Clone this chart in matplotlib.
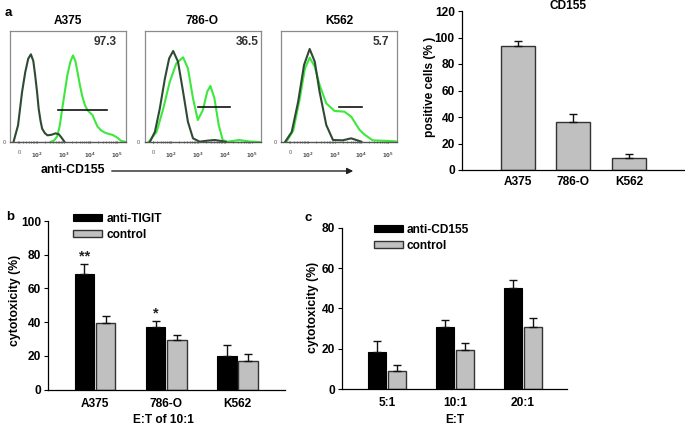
import matplotlib
matplotlib.use("Agg")
import matplotlib.pyplot as plt
import numpy as np

plt.rcParams['font.family'] = ['Liberation Sans', 'DejaVu Sans']
plt.rcParams['font.weight'] = 'bold'

# ---------------- data ----------------
cell_lines = ["A375", "786-O", "K562"]
pct_labels = ["97.3", "36.5", "5.7"]

# flow histograms: x in decade units (2 = 10^2), y in % of box height
a375_ctrl_x = [1.13, 1.30, 1.45, 1.57, 1.68, 1.78, 1.87, 1.94, 2.01, 2.07, 2.14, 2.20, 2.30, 2.40, 2.55, 2.70, 2.82, 2.92, 3.04]
a375_ctrl_y = [0, 15, 45, 63, 75, 79, 73, 60, 45, 30, 19, 12, 8, 6, 6.5, 7.8, 7, 4, 0]
a375_cd155_x = [2.51, 2.65, 2.76, 2.86, 2.95, 3.05, 3.14, 3.25, 3.35, 3.44, 3.52, 3.61, 3.70, 3.80, 3.89, 3.98, 4.08, 4.17, 4.27, 4.40, 4.52, 4.68, 4.84, 5.00, 5.15, 5.34]
a375_cd155_y = [0, 1.5, 5, 15, 30, 46, 60, 72, 78, 73, 63, 51, 41, 33, 28.8, 26.5, 24.3, 19, 13.8, 10.5, 8.7, 7.3, 6.3, 4, 1, 0]

o786_ctrl_x = [1.20, 1.39, 1.57, 1.76, 1.92, 2.07, 2.25, 2.44, 2.62, 2.81, 3.06, 3.35, 3.61, 3.85, 4.04]
o786_ctrl_y = [0, 9.3, 30, 57, 75.3, 82, 72.4, 45.3, 18.3, 3.3, 0.3, 1.2, 1.8, 1, 0]
o786_cd155_x = [1.15, 1.45, 1.70, 1.94, 2.19, 2.44, 2.62, 2.81, 2.99, 3.18, 3.34, 3.46, 3.61, 3.77, 3.92, 4.10, 4.54, 4.90, 5.30]
o786_cd155_y = [0, 9, 30, 54, 70.9, 76.3, 66.4, 39.4, 19.8, 28.8, 45.3, 50.5, 39.4, 15.3, 1.8, 0.3, 1.8, 0.5, 0]

k562_ctrl_x = [1.15, 1.40, 1.64, 1.86, 2.07, 2.26, 2.44, 2.69, 2.94, 3.30, 3.62, 4.00]
k562_ctrl_y = [0, 9, 36.3, 69.4, 83.8, 72.4, 45.3, 15.3, 1.8, 1.5, 3.3, 0.3]
k562_cd155_x = [1.20, 1.46, 1.70, 1.89, 2.07, 2.26, 2.44, 2.69, 3.00, 3.37, 3.62, 3.93, 4.10, 4.42, 5.00, 5.30]
k562_cd155_y = [0, 10.5, 39, 66, 76, 67.9, 51.4, 34.8, 28, 27.3, 22.8, 11, 7, 1.5, 1, 0.5]

gate_start = [2.80, 2.99, 3.15]
gate_end = [4.61, 4.19, 4.01]
gate_level = [28.8, 31.2, 31.2]

hist_tick_pos = [1.33, 2, 3, 4, 5]
hist_tick_labels = ["0", "$10^2$", "$10^3$", "$10^4$", "$10^5$"]

# CD155 positive cells
pos_mean = [93.8, 36.1, 9.0]
pos_err = [3.5, 5.8, 3.2]

# panel b
b_groups = ["A375", "786-O", "K562"]
tigit_mean = [68.7, 36.8, 19.6]
tigit_err = [5.6, 3.8, 6.6]
ctrl_b_mean = [39.3, 29.3, 17.0]
ctrl_b_err = [4.3, 3.3, 4.3]
b_stars = ["**", "*", ""]

# panel c
c_groups = ["5:1", "10:1", "20:1"]
cd155_mean = [18.5, 30.8, 50.3]
cd155_err = [5.4, 3.4, 3.7]
ctrl_c_mean = [8.9, 19.3, 30.9]
ctrl_c_err = [2.8, 3.7, 4.5]

# ---------------- layout helpers ----------------
W, H = 685, 425
fig = plt.figure(figsize=(W / 100, H / 100), dpi=100)
FS = 8.6


def rect(l, t, r, b):
    return [l / W, 1 - b / H, (r - l) / W, (b - t) / H]


def ftext(x, y, s, **kw):
    fig.text(x / W, 1 - y / H, s, **kw)


DARK = "#2f4a33"
GREEN = "#3de83d"
GRAY = "#c0c0c0"

# ---------------- panel a: histograms ----------------
hist_data = [
    (a375_ctrl_x, a375_ctrl_y, a375_cd155_x, a375_cd155_y),
    (o786_ctrl_x, o786_ctrl_y, o786_cd155_x, o786_cd155_y),
    (k562_ctrl_x, k562_ctrl_y, k562_cd155_x, k562_cd155_y),
]
hist_left = [10, 144.5, 281]
pct_right = [0.92, 0.98, 0.93]
for i, (cx, cy, gx, gy) in enumerate(hist_data):
    l = hist_left[i]
    ax = fig.add_axes(rect(l, 31, l + 116, 142))
    ax.plot(gx, gy, color=GREEN, lw=1.5, solid_joinstyle="round")
    ax.plot(cx, cy, color=DARK, lw=1.5, solid_joinstyle="round")
    ax.plot([gate_start[i], gate_end[i]], [gate_level[i], gate_level[i]], color="#111111", lw=1.2)
    ax.set_xlim(1.0, 5.33)
    ax.set_ylim(0, 100)
    for s in ["top", "left", "right"]:
        ax.spines[s].set_color("#8a8a8a")
        ax.spines[s].set_linewidth(0.9)
    ax.spines["bottom"].set_color("#555555")
    ax.spines["bottom"].set_linewidth(1.0)
    ax.set_xticks(hist_tick_pos)
    ax.set_xticklabels(hist_tick_labels, fontsize=4, color="#555555", fontweight="normal")
    ax.set_xticks(np.concatenate([np.log10(np.arange(2, 10)) + d for d in range(1, 5)]), minor=True)
    ax.tick_params(axis="x", which="major", length=2, width=0.6, direction="inout", pad=5, colors="#555555")
    ax.tick_params(axis="x", which="minor", length=1.5, width=0.5, direction="inout", colors="#555555")
    ax.set_yticks([0])
    ax.set_yticklabels(["0"], fontsize=4, color="#555555", fontweight="normal")
    ax.tick_params(axis="y", length=0, pad=3)
    ax.text(pct_right[i], 0.90, pct_labels[i], transform=ax.transAxes, ha="right", va="center",
            fontsize=FS, fontweight="bold", color="#333333")
    ax.set_title(cell_lines[i], fontsize=FS, fontweight="bold", pad=5)

ftext(8, 13, "a", fontsize=9.5, fontweight="bold", ha="center", va="center")
ftext(73, 170, "anti-CD155", fontsize=8.8, fontweight="bold", ha="center", va="center")
fig.add_artist(matplotlib.patches.FancyArrowPatch(
    (109 / W, 1 - 171 / H), (356 / W, 1 - 171 / H), transform=fig.transFigure,
    arrowstyle="-|>", mutation_scale=9, color="#222222", lw=1.0))

# ---------------- CD155 positive cells ----------------
ax = fig.add_axes(rect(461.7, 11, 684, 170))
x = np.arange(len(cell_lines))
ax.bar(x, pos_mean, width=0.61, color=GRAY, edgecolor="#333333", linewidth=1.0,
       yerr=[np.zeros(3), pos_err], error_kw=dict(ecolor="#111111", elinewidth=1, capsize=3, capthick=1))
ax.set_xlim(-1.01, 2.99)
ax.set_ylim(0, 120)
ax.set_yticks(range(0, 121, 20))
ax.set_xticks(x)
ax.set_xticklabels(cell_lines)
ax.tick_params(axis="x", length=0, pad=4, labelsize=FS)
ax.tick_params(axis="y", length=3, width=0.8, pad=2, labelsize=FS)
for s in ["top", "right"]:
    ax.spines[s].set_visible(False)
ax.spines["left"].set_linewidth(0.9)
ax.spines["bottom"].set_linewidth(0.9)
ftext(568, 6, "CD155", fontsize=FS, fontweight="bold", ha="center", va="center")
ftext(430, 87, "positive cells (% )", fontsize=8.6, fontweight="bold", ha="center", va="center", rotation=90)


def grouped(axr, groups, m1, e1, m2, e2, off, width, ylim, yticks, labels, leg_anchor):
    xx = np.arange(len(groups))
    ek = dict(ecolor="#111111", elinewidth=1, capsize=3, capthick=1)
    h1 = axr.bar(xx - off, m1, width=width, color="black", edgecolor="black", linewidth=0.8,
                 yerr=[np.zeros(len(m1)), e1], error_kw=ek, label=labels[0])
    h2 = axr.bar(xx + off, m2, width=width, color=GRAY, edgecolor="#333333", linewidth=1.0,
                 yerr=[np.zeros(len(m2)), e2], error_kw=ek, label=labels[1])
    axr.set_ylim(*ylim)
    axr.set_yticks(yticks)
    axr.set_xticks(xx)
    axr.set_xticklabels(groups)
    axr.tick_params(axis="x", length=0, pad=5.8, labelsize=FS)
    axr.tick_params(axis="y", length=3, width=0.8, pad=2, labelsize=FS)
    for s in ["top", "right"]:
        axr.spines[s].set_visible(False)
    axr.spines["left"].set_linewidth(0.9)
    axr.spines["bottom"].set_linewidth(0.9)
    leg = fig.legend(handles=[h1, h2], loc="upper left",
                     bbox_to_anchor=(leg_anchor[0] / W, 1 - leg_anchor[1] / H),
                     frameon=False, fontsize=FS, handlelength=2.4, handleheight=0.55,
                     labelspacing=0.3, handletextpad=0.35, borderpad=0, borderaxespad=0)
    for t in leg.get_texts():
        t.set_fontweight("bold")
    return xx


# ---------------- panel b ----------------
axb = fig.add_axes(rect(48.3, 221, 285, 389.5))
xb = grouped(axb, b_groups, tigit_mean, tigit_err, ctrl_b_mean, ctrl_b_err, 0.148, 0.275,
             (0, 100), range(0, 101, 20), ["anti-TIGIT", "control"], (73.3, 213))
axb.set_xlim(-0.655, 2.667)
for i, s in enumerate(b_stars):
    if s:
        axb.text(xb[i] - 0.148, tigit_mean[i] + tigit_err[i] + 4.5, s, ha="center", va="center",
                 fontsize=10.5, fontweight="bold", color="#222222")
ftext(10, 217, "b", fontsize=9.5, fontweight="bold", ha="center", va="center")
ftext(15, 300, "cytotoxicity (%)", fontsize=8.8, fontweight="bold", ha="center", va="center", rotation=90)
ftext(163, 420, "E:T of 10:1", fontsize=FS, fontweight="bold", ha="center", va="center")

# ---------------- panel c ----------------
axc = fig.add_axes(rect(341.7, 227.7, 566.7, 389))
grouped(axc, c_groups, cd155_mean, cd155_err, ctrl_c_mean, ctrl_c_err, 0.147, 0.272,
        (0, 80), range(0, 81, 20), ["anti-CD155", "control"], (374, 224))
axc.set_xlim(-0.663, 2.646)
axc.tick_params(axis="x", pad=5.5)
ftext(308, 218, "c", fontsize=9.5, fontweight="bold", ha="center", va="center")
ftext(313, 307, "cytotoxicity (%)", fontsize=8.8, fontweight="bold", ha="center", va="center", rotation=90)
ftext(455, 420, "E:T", fontsize=FS, fontweight="bold", ha="center", va="center")

fig.savefig("out.png", dpi=100)
